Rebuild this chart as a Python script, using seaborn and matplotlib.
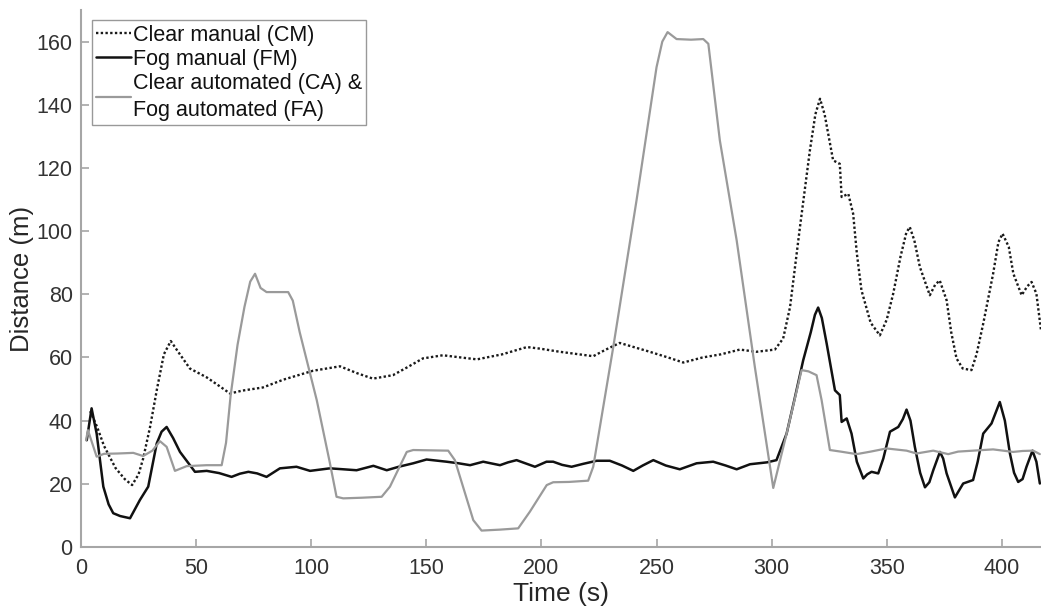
import matplotlib
matplotlib.use("Agg")
import matplotlib.pyplot as plt
import seaborn as sns
import pandas as pd

# ---- data ----
cm_time = [4, 7, 10, 15, 19, 22.2, 25, 27, 30, 33, 36, 39, 42, 47.3, 54.6, 60, 64.7, 70, 79,
           88, 100.8, 112.5, 120, 126.8, 135.5, 142, 148.5, 157.2, 165, 172, 183, 193.7,
           199.3, 208, 222.5, 228, 234, 245.7, 255, 261.6, 270, 278, 286.2, 293.4, 301.4,
           305, 308, 312.3, 316.6, 319, 321, 323, 326.7, 329.6, 330.4, 333.3, 335.4, 337,
           339, 343, 347, 350, 352.8, 356, 358.5, 360, 362, 364.4, 368.7, 371, 373, 376, 378, 380.3,
           383, 386.8, 389, 391.9, 396.2, 398.5, 400.3, 403, 405, 408.6, 411, 412.9, 415, 417]
cm_dist = [43, 38, 32, 25, 21.5, 19.6, 23, 28, 38, 50, 61, 65.2, 62, 56.5, 53.7, 51, 48.6, 49.5,
           50.5, 53, 55.8, 57.2, 55, 53.3, 54.4, 57, 59.7, 60.7, 60, 59.4, 61, 63.3,
           62.8, 61.8, 60.4, 62.5, 64.6, 62.1, 60, 58.4, 60, 61, 62.5, 61.8, 62.5,
           66, 76, 101.3, 125.5, 137, 141.9, 137, 122.4, 121.3, 110.8, 111.8, 105.5, 93,
           81.3, 71, 67, 72, 80.2, 92, 99.5, 101.3, 97, 88.6, 79.7, 83, 84.4, 78.1, 68, 59.7,
           56.5, 56, 61, 70.7, 86.5, 96.5, 99.2, 95, 86.5, 79.7, 82.5, 83.9, 80.2, 68.6]

fm_time = [2.5, 4.6, 6.8, 9.7, 12, 14, 17, 21.3, 25.6, 29.2, 32.9, 35, 37.2, 40, 43, 49.5, 54.6, 60,
           65.4, 69, 72.7, 76.5, 80.6, 86.4, 93.6, 99.5, 108.1, 114, 119.7, 127, 132.8, 138,
           144.3, 150.1, 158.8, 164, 169, 174.7, 178, 182, 185.5, 189.2, 193, 197.2, 202.2,
           205.1, 209, 213.1, 218, 224, 229.7, 235, 239.9, 244, 248.6, 254, 260.1, 267.4,
           274.6, 280, 284.8, 290.6, 298, 302.1, 306.5, 310, 313.7, 317, 318.8, 320.2, 321.8,
           323.9, 327.5, 329.6, 330.4, 332.6, 334.7, 337, 339.8, 341.5, 343.4, 346.3, 348.5,
           351.4, 355, 357, 358.6, 360.3, 362.2, 364.5, 366.6, 368.5, 370.2, 373.1, 374.5, 376,
           379.6, 383.2, 387.5, 389.5, 391.9, 395.5, 399.1, 401.3, 403.5, 405.3, 407.1, 409,
           410.7, 413.3, 415, 416.5]
fm_dist = [33.8, 43.9, 35.9, 19.1, 13.5, 10.7, 9.8, 9.1, 14.9, 19.1, 32.8, 36.5, 38, 34.5, 30.1, 23.8,
           24.1, 23.4, 22.2, 23.2, 23.8, 23.3, 22.2, 24.9, 25.4, 24.1, 24.9, 24.6, 24.3, 25.7,
           24.3, 25.4, 26.5, 27.7, 27, 26.5, 25.9, 27, 26.5, 25.9, 26.8, 27.5, 26.5, 25.4, 27,
           27, 26, 25.4, 26.3, 27.3, 27.3, 25.8, 24.1, 25.8, 27.5, 25.8, 24.6, 26.5,
           27, 25.8, 24.6, 26.2, 26.8, 27.5, 35.9, 47, 59.1, 68, 73.5, 75.8, 72.5,
           64.4, 49.6, 48.1, 39.6, 40.7, 35.9, 27, 21.7, 23, 23.8, 23.3, 28,
           36.5, 38, 40.5, 43.5, 40, 31.7, 23.5, 18.9, 20.5, 24.3, 30.1, 28, 23.3,
           15.7, 20.1, 21.2, 27, 35.9, 39.1, 45.9, 40, 29.6, 23.5, 20.6, 21.5,
           25.4, 30.5, 27, 20.1]

auto_time = [2.2, 3, 6.8, 10, 16, 22.7, 27, 31, 34.3, 37.2, 40.8, 45.9, 54.6, 61.1, 63, 65,
             68, 71, 73.5, 75.6, 78, 80.6, 90, 92, 95, 102.4, 108, 111, 113.9, 122, 130.6,
             134.2, 141.5, 144.3, 152, 159.5, 162.4, 170.4, 174, 182, 189.9, 195, 202.3,
             205.1, 212, 220.3, 222.5, 231.2, 241.3, 250, 252.5, 254.8, 258.7, 265, 270.3,
             272.5, 277.5, 284.8, 292.7, 300.7, 306.5, 313, 316, 319.5, 321.7, 325.3,
             330, 336.9, 343, 349.9, 358.6, 362.9, 370.2, 376.7, 381, 387.5, 396.2, 404.9,
             409, 413.6, 416.5]
auto_dist = [33.8, 37, 28.6, 29.5, 29.6, 29.8, 28.8, 30.5, 33.5, 31.7, 24.1, 25.6, 25.9, 25.9, 33, 48,
             64, 76, 84, 86.5, 82, 80.7, 80.7, 78, 68, 46.5, 27, 15.9, 15.4, 15.6, 15.9,
             19.1, 30.1, 30.7, 30.6, 30.5, 27.5, 8.5, 5.2, 5.5, 5.9, 11.2, 19.6,
             20.5, 20.6, 21, 25.4, 63.3, 109.7, 151.9, 160, 163, 160.8, 160.6, 160.8,
             159.3, 128.7, 97.1, 57, 18.7, 35.9, 56, 55.6, 54.4, 46.5, 30.7,
             30.2, 29.4, 30.2, 31.2, 30.5, 29.6, 30.5, 29.4, 30.2, 30.5, 30.9, 30.1,
             30.4, 30.5, 29.4]

labels = ["Clear manual (CM)", "Fog manual (FM)", "Clear automated (CA) &\nFog automated (FA)"]
x_ticks = [0, 50, 100, 150, 200, 250, 300, 350, 400]
y_ticks = [0, 20, 40, 60, 80, 100, 120, 140, 160]

# ---- styling ----
sns.set_theme(style="ticks")
plt.rcParams["font.family"] = ["Liberation Sans", "DejaVu Sans"]
spine_col = "#a6a6a6"
text_col = "#262626"

fig = plt.figure(figsize=(10.41, 6.10), dpi=100)
ax = fig.add_axes([81 / 1041, 63 / 610, 960 / 1041, 537 / 610])

sns.lineplot(x=cm_time, y=cm_dist, ax=ax, color="#1a1a1a", linewidth=1.7,
             linestyle=(0, (1, 1)), label=labels[0], sort=False)
sns.lineplot(x=fm_time, y=fm_dist, ax=ax, color="#111111", linewidth=1.8,
             label=labels[1], sort=False)
sns.lineplot(x=auto_time, y=auto_dist, ax=ax, color="#9a9a9a", linewidth=1.6,
             label=labels[2], sort=False)

ax.set_xlim(0, 417)
ax.set_ylim(0, 170)
ax.set_xticks(x_ticks)
ax.set_yticks(y_ticks)
ax.set_xlabel("Time (s)", fontsize=19, color=text_col, labelpad=2)
ax.set_ylabel("Distance (m)", fontsize=18.5, color=text_col, labelpad=2)

for side in ["top", "right"]:
    ax.spines[side].set_visible(False)
for side in ["left", "bottom"]:
    ax.spines[side].set_color(spine_col)
    ax.spines[side].set_linewidth(1.5)
ax.tick_params(axis="both", direction="in", length=6, width=1.2, color=spine_col,
               labelsize=15.5, labelcolor="#333333")
ax.tick_params(axis="x", pad=8)
ax.tick_params(axis="y", pad=6)

leg = ax.legend(loc="upper left", bbox_to_anchor=(0.0115, 0.981), borderaxespad=0,
                fontsize=15.5, frameon=True, fancybox=False, framealpha=1,
                edgecolor="#999999", handlelength=1.6, handletextpad=0.1,
                labelspacing=0.15, borderpad=0.2)
leg.get_frame().set_linewidth(1.0)
for t in leg.get_texts():
    t.set_color("#111111")
    t.set_linespacing(1.35)

fig.savefig("out.png", dpi=100)
